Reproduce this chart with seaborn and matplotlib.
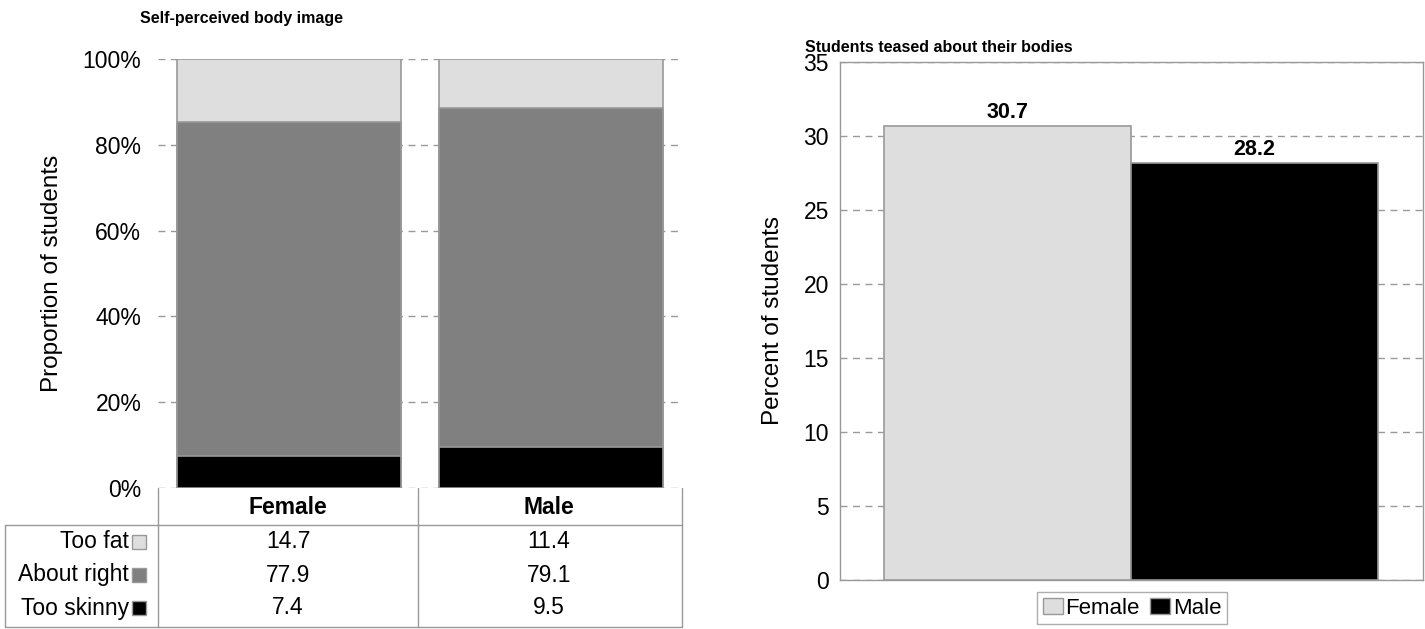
import numpy as np
import pandas as pd
import matplotlib
matplotlib.use('Agg')
import matplotlib.pyplot as plt
import seaborn as sns
from matplotlib.patches import Patch, Rectangle

sns.set_theme(style='white')
plt.rcParams['font.family'] = ['Liberation Sans', 'DejaVu Sans']
plt.rcParams['text.color'] = 'black'
plt.rcParams['axes.labelcolor'] = 'black'
plt.rcParams['ytick.color'] = 'black'

# data
genders = ['Female', 'Male']
too_fat = [14.7, 11.4]
about_right = [77.9, 79.1]
too_skinny = [7.4, 9.5]
teased = [30.7, 28.2]

body_labels = ['Too fat', 'About right', 'Too skinny']
body_colors = ['#dedede', '#808080', '#000000']
edge = '#999999'
FS = 16.5

W, H = 1425, 629
fig = plt.figure(figsize=(W / 100, H / 100), dpi=100)


def px_axes(x0, y0, x1, y1):
    return fig.add_axes([x0 / W, 1 - y1 / H, (x1 - x0) / W, (y1 - y0) / H])


# ---- left: stacked proportion bars
ax1 = px_axes(158, 59, 682, 488)
df = pd.DataFrame({'gender': genders, 'skinny': too_skinny,
                   'right': about_right, 'fat': too_fat})
df['top_right'] = df['skinny'] + df['right']
df['top_fat'] = df['top_right'] + df['fat']
for col, c in [('top_fat', body_colors[0]), ('top_right', body_colors[1]),
               ('skinny', body_colors[2])]:
    sns.barplot(data=df, x='gender', y=col, color=c, width=0.855,
                edgecolor=edge, linewidth=1.2, saturation=1, ax=ax1, zorder=3)
ax1.set_xlim(-0.5, 1.5)
ax1.set_ylim(0, 100)
ax1.set_yticks(range(0, 101, 20))
ax1.set_yticklabels([f'{v}%' for v in range(0, 101, 20)], fontsize=FS)
ax1.set_xticks([])
ax1.set_xlabel('')
ax1.set_ylabel('Proportion of students', fontsize=17.5, labelpad=14)
ax1.yaxis.grid(True, linestyle=(0, (5, 4)), color='#999999', linewidth=1)
ax1.set_axisbelow(True)
for s in ax1.spines.values():
    s.set_visible(False)
ax1.tick_params(axis='y', length=0, pad=12)
fig.text(140 / W, 1 - 18 / H, 'Self-perceived body image', fontsize=11.5,
         fontweight='bold', va='center', ha='left')

# ---- table under left chart
tax = px_axes(0, 488, 690, 629)
tax.set_xlim(0, 690)
tax.set_ylim(141, 0)
tax.axis('off')
lc = '#999999'
tax.plot([158, 158], [0, 139], color=lc, lw=1)
tax.plot([418, 418], [0, 139], color=lc, lw=1)
tax.plot([682, 682], [0, 139], color=lc, lw=1)
tax.plot([5, 682], [37, 37], color=lc, lw=1)
tax.plot([5, 5], [37, 139], color=lc, lw=1)
tax.plot([5, 682], [139, 139], color=lc, lw=1)
col_x = [288, 549]
for g, cx in zip(genders, col_x):
    tax.text(cx, 20, g, ha='center', va='center', fontsize=FS, fontweight='bold')
row_y = [54, 87, 120]
rows = [too_fat, about_right, too_skinny]
for lab, col, ry, vals in zip(body_labels, body_colors, row_y, rows):
    tax.text(129, ry, lab, ha='right', va='center', fontsize=FS)
    tax.add_patch(Rectangle((132, ry - 7), 14, 14, facecolor=col,
                            edgecolor=edge, lw=1))
    for v, cx in zip(vals, col_x):
        tax.text(cx, ry, f'{v:.1f}', ha='center', va='center', fontsize=FS)

# ---- right: teased bars
ax2 = px_axes(840, 62, 1423, 580)
df2 = pd.DataFrame({'gender': genders, 'pct': teased})
sns.barplot(data=df2, x='gender', y='pct', hue='gender',
            palette=['#dedede', '#000000'], width=1.0, edgecolor=edge,
            linewidth=1.2, saturation=1, legend=False, ax=ax2, zorder=3)
ax2.set_xlim(-0.678, 1.682)
ax2.set_ylim(0, 35)
ax2.set_yticks(range(0, 36, 5))
ax2.tick_params(axis='y', labelsize=FS, length=0, pad=8)
ax2.set_xticks([])
ax2.set_xlabel('')
ax2.set_ylabel('Percent of students', fontsize=17.5, labelpad=14)
ax2.yaxis.grid(True, linestyle=(0, (5, 4)), color='#999999', linewidth=1)
ax2.set_axisbelow(True)
for s in ax2.spines.values():
    s.set_color('#999999')
    s.set_linewidth(1)
for i, v in enumerate(teased):
    ax2.text(i, v + 0.15, f'{v:.1f}', ha='center', va='bottom', fontsize=15.5,
             fontweight='bold')
fig.text(805 / W, 1 - 47 / H, 'Students teased about their bodies', fontsize=11.5,
         fontweight='bold', va='center', ha='left')
handles = [Patch(facecolor='#dedede', edgecolor=edge, label='Female'),
           Patch(facecolor='#000000', edgecolor=edge, label='Male')]
fig.legend(handles=handles, loc='center', bbox_to_anchor=(1132 / W, 1 - 608 / H),
           ncol=2, fontsize=16, frameon=True, fancybox=False, edgecolor='#999999',
           handlelength=0.9, handleheight=0.7, handletextpad=0.1,
           columnspacing=0.5, borderpad=0.25, borderaxespad=0)

fig.savefig('out.png', dpi=100)
